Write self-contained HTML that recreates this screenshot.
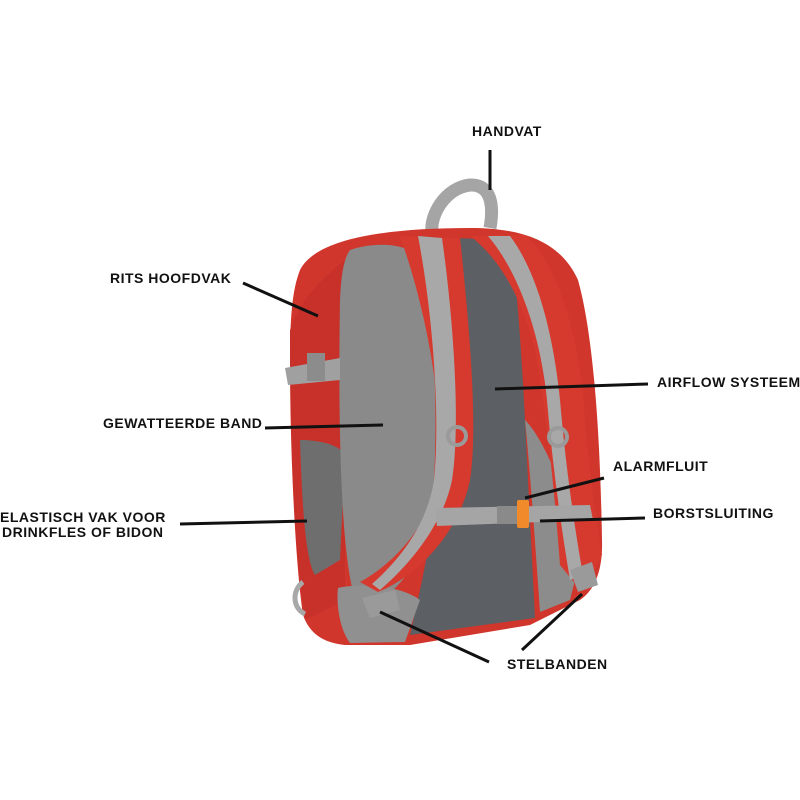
<!DOCTYPE html>
<html><head><meta charset="utf-8"><style>
html,body{margin:0;padding:0;background:#fff;}
svg{display:block}
text{font-family:"Liberation Sans",sans-serif;font-weight:bold;font-size:14px;fill:#111;letter-spacing:0.5px}
</style></head><body>
<svg width="800" height="800" viewBox="0 0 800 800" xmlns="http://www.w3.org/2000/svg">
<rect width="800" height="800" fill="#fff"/>
<path d="M432,232 C430,215 445,188 470,185 C488,184 495,200 490,228" fill="none" stroke="#a5a5a5" stroke-width="13"/>
<path d="M300,270 C315,240 380,228 470,228 C520,228 560,240 578,280 C592,330 600,420 602,540 C603,570 595,590 580,600 L530,625 L410,645 L345,645 C325,643 310,635 303,615 C295,560 290,450 290,360 C290,320 292,290 300,270 Z" fill="#d0362c"/>
<path d="M290,330 C300,300 320,280 345,260 L345,600 L305,620 C295,560 290,450 290,330 Z" fill="#c8302a"/>
<path d="M300,440 C320,440 340,445 345,455 L340,560 L315,575 C305,560 302,500 300,440 Z" fill="#6e6e6e"/>
<path d="M455,238 L510,240 C520,300 525,420 530,520 L535,618 L410,635 L420,590 C440,500 455,350 455,238 Z" fill="#5c5f63"/>
<path d="M350,250 C380,240 410,245 425,260 C435,330 440,450 430,520 C420,570 390,600 360,610 C340,580 338,420 340,300 C341,275 344,258 350,250 Z" fill="#8a8a8a"/>
<path d="M338,588 C360,583 400,585 420,600 L405,642 L350,643 C340,630 336,605 338,588 Z" fill="#909090"/>
<path d="M525,420 C545,440 570,500 580,560 L570,600 L540,612 C535,540 530,470 525,420 Z" fill="#8c8c8c"/>
<path d="M400,236 L460,238 C470,330 478,430 470,480 C460,530 420,575 378,592 L360,582 C400,560 430,520 438,480 C445,420 430,320 400,236 Z" fill="#d63a2e"/>
<path d="M418,236 L442,238 C455,330 460,430 452,480 C444,520 415,560 380,590 L372,584 C405,555 428,520 434,480 C440,420 434,320 418,236 Z" fill="#a8a8a8"/>
<path d="M470,236 L525,235 C555,260 580,330 585,420 C590,480 598,530 602,555 L582,592 L560,565 C555,500 548,420 535,350 C520,290 495,255 470,236 Z" fill="#d63a2e"/>
<path d="M488,236 L510,236 C536,270 553,330 560,400 C566,470 575,530 583,575 L570,580 C560,520 552,460 547,400 C540,330 517,270 488,236 Z" fill="#a8a8a8"/>
<circle cx="457" cy="436" r="9" fill="none" stroke="#9a9a9a" stroke-width="4"/>
<circle cx="558" cy="437" r="9" fill="none" stroke="#9a9a9a" stroke-width="4"/>
<path d="M435,508 L590,505 L593,520 L437,526 Z" fill="#a5a5a5"/>
<rect x="497" y="506" width="24" height="18" fill="#8a8a8a"/>
<rect x="517" y="500" width="12" height="28" rx="2" fill="#f08a2a"/>
<path d="M285,368 L340,358 L340,380 L288,385 Z" fill="#a0a0a0"/>
<rect x="307" y="353" width="18" height="28" fill="#8c8c8c"/>
<path d="M303,582 C292,590 292,608 305,614" fill="none" stroke="#a8a8a8" stroke-width="5"/>
<path d="M362,598 L395,590 L400,610 L370,618 Z" fill="#9a9a9a"/>
<path d="M570,570 L592,562 L598,585 L578,592 Z" fill="#9a9a9a"/>
<g stroke="#111" stroke-width="3" fill="none">
<line x1="490" y1="150" x2="490" y2="190"/>
<line x1="243" y1="283" x2="318" y2="316"/>
<line x1="495" y1="389" x2="648" y2="384"/>
<line x1="265" y1="428" x2="383" y2="425"/>
<line x1="525" y1="498" x2="604" y2="478"/>
<line x1="540" y1="521" x2="645" y2="518"/>
<line x1="180" y1="524" x2="307" y2="521"/>
<line x1="380" y1="612" x2="489" y2="662"/>
<line x1="582" y1="594" x2="522" y2="650"/>
</g>
<text x="472" y="136">HANDVAT</text>
<text x="110" y="283">RITS HOOFDVAK</text>
<text x="657" y="387">AIRFLOW SYSTEEM</text>
<text x="103" y="428">GEWATTEERDE BAND</text>
<text x="613" y="471">ALARMFLUIT</text>
<text x="653" y="518">BORSTSLUITING</text>
<text x="0" y="522">ELASTISCH VAK VOOR</text>
<text x="2" y="537">DRINKFLES OF BIDON</text>
<text x="507" y="669">STELBANDEN</text>
</svg>
</body></html>
